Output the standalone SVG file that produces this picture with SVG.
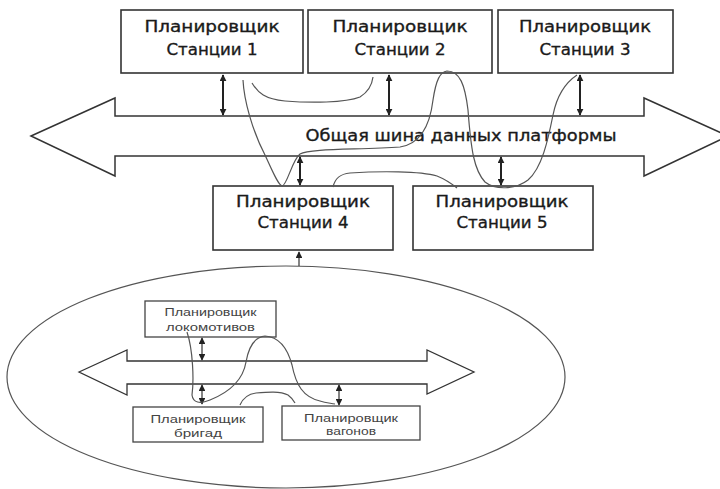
<svg xmlns="http://www.w3.org/2000/svg" width="720" height="489" viewBox="0 0 720 489">
<defs>
<marker id="ah" viewBox="0 0 10 10" refX="9" refY="5" markerWidth="3.5" markerHeight="3.5" orient="auto-start-reverse" markerUnits="strokeWidth">
<path d="M0,0 L10,5 L0,10 z" fill="#222"/>
</marker>
<marker id="ahs" viewBox="0 0 10 10" refX="9" refY="5" markerWidth="5.5" markerHeight="5.5" orient="auto-start-reverse" markerUnits="strokeWidth">
<path d="M0,0 L10,5 L0,10 z" fill="#222"/>
</marker>
<style>
.box{fill:#fff;stroke:#333;stroke-width:1.6}
.sbox{fill:#fff;stroke:#444;stroke-width:1.3}
.big{font-family:"DejaVu Sans","Liberation Sans",sans-serif;font-size:16px;fill:#1a1a1a;stroke:#1a1a1a;stroke-width:0.35;text-anchor:middle}
.sm{font-family:"Liberation Sans","DejaVu Sans",sans-serif;font-size:10.5px;fill:#444;text-anchor:middle}
.bus{fill:#fff;stroke:#333;stroke-width:1.5}
.va{stroke:#222;stroke-width:2;fill:none;marker-start:url(#ah);marker-end:url(#ah)}
.vs{stroke:#333;stroke-width:1.2;fill:none;marker-start:url(#ahs);marker-end:url(#ahs)}
.cv{fill:none;stroke:#555;stroke-width:1.2}
</style>
</defs>
<rect width="720" height="489" fill="#fff"/>

<g id="bus">
<polygon class="bus" points="31,136 115,98 115,116 644,116 644,98 728,136 644,176 644,156 115,156 115,176"/>
<text class="big" x="461" y="141" textLength="311" lengthAdjust="spacingAndGlyphs">Общая шина данных платформы</text>
</g>

<g id="st1">
<rect class="box" x="121" y="10" width="182" height="63"/>
<text class="big" x="212" y="32" textLength="135" lengthAdjust="spacingAndGlyphs">Планировщик</text>
<text class="big" x="212" y="55" textLength="91" lengthAdjust="spacingAndGlyphs">Станции 1</text>
</g>
<g id="st2">
<rect class="box" x="308" y="10" width="184" height="63"/>
<text class="big" x="400" y="32" textLength="135" lengthAdjust="spacingAndGlyphs">Планировщик</text>
<text class="big" x="400" y="55" textLength="91" lengthAdjust="spacingAndGlyphs">Станции 2</text>
</g>
<g id="st3">
<rect class="box" x="498" y="10" width="175" height="63"/>
<text class="big" x="585" y="32" textLength="132" lengthAdjust="spacingAndGlyphs">Планировщик</text>
<text class="big" x="585" y="55" textLength="91" lengthAdjust="spacingAndGlyphs">Станции 3</text>
</g>
<g id="st4">
<rect class="box" x="213" y="186" width="180" height="64"/>
<text class="big" x="303" y="207" textLength="134" lengthAdjust="spacingAndGlyphs">Планировщик</text>
<text class="big" x="303" y="228" textLength="91" lengthAdjust="spacingAndGlyphs">Станции 4</text>
</g>
<g id="st5">
<rect class="box" x="413" y="186" width="180" height="64"/>
<text class="big" x="502" y="207" textLength="133" lengthAdjust="spacingAndGlyphs">Планировщик</text>
<text class="big" x="502" y="228" textLength="91" lengthAdjust="spacingAndGlyphs">Станции 5</text>
</g>

<g id="group">
<ellipse cx="286" cy="377" rx="279" ry="111" fill="#fff" stroke="#555" stroke-width="1.2"/>
<polygon class="bus" style="stroke-width:1.3" points="79,372 127,350 127,361 427,361 427,350 474,372 427,394 427,384 127,384 127,395"/>
</g>
<g id="loco">
<rect class="sbox" x="145" y="301" width="131" height="36"/>
<text class="sm" x="210.5" y="316" textLength="92" lengthAdjust="spacingAndGlyphs">Планировщик</text>
<text class="sm" x="210.5" y="331" textLength="89" lengthAdjust="spacingAndGlyphs">локомотивов</text>
</g>
<g id="brig">
<rect class="sbox" x="133" y="407" width="130" height="35"/>
<text class="sm" x="198" y="423" textLength="95" lengthAdjust="spacingAndGlyphs">Планировщик</text>
<text class="sm" x="198" y="437" textLength="48" lengthAdjust="spacingAndGlyphs">бригад</text>
</g>
<g id="vag">
<rect class="sbox" x="282" y="406" width="138" height="34"/>
<text class="sm" x="351" y="422" textLength="94" lengthAdjust="spacingAndGlyphs">Планировщик</text>
<text class="sm" x="351" y="435" textLength="50" lengthAdjust="spacingAndGlyphs">вагонов</text>
</g>

<g id="connectors">
<line class="va" x1="223" y1="75" x2="223" y2="115"/>
<line class="va" x1="389" y1="75" x2="389" y2="115"/>
<line class="va" x1="580" y1="75" x2="580" y2="115"/>
<line class="va" x1="300" y1="157" x2="300" y2="185"/>
<line class="va" x1="501" y1="157" x2="501" y2="185"/>
<line x1="299" y1="266" x2="299" y2="252" stroke="#333" stroke-width="1.2" marker-end="url(#ahs)"/>
<line class="vs" x1="202" y1="338" x2="202" y2="360"/>
<line class="vs" x1="202" y1="385" x2="202" y2="404"/>
<line class="vs" x1="339" y1="385" x2="339" y2="405"/>
<path class="cv" d="M243,80 C244,100 252,130 265,155 C272,170 278,185 282,186 C287,186 292,160 300,154 C310,148 360,150 400,147 C420,144 430,125 433,100 C436,80 440,72 447,71 C460,71 465,85 468,110 C471,150 474,170 485,182 C495,190 515,190 528,180 C542,168 548,140 553,115 C557,95 565,83 577,75"/>
<path class="cv" d="M252,83 C258,93 265,99 285,101 C310,103 345,103 360,97 C368,92 372,85 373,77"/>
<path class="cv" d="M333,187 C335,178 340,174 350,173 C380,171 420,171 437,176 C447,180 452,184 457,188"/>
<path class="cv" d="M187,332 C193,350 194,380 192,395 C193,403 200,404 210,400 C230,392 243,380 246,362 C249,345 255,337 265,336 C280,337 288,350 292,365 C296,385 303,397 320,401 C326,403 330,403 335,404"/>
<path class="cv" d="M240,405 C243,398 248,394 256,393 C268,392 280,391 288,395 C292,398 294,401 295,403"/>
</g>
</svg>
